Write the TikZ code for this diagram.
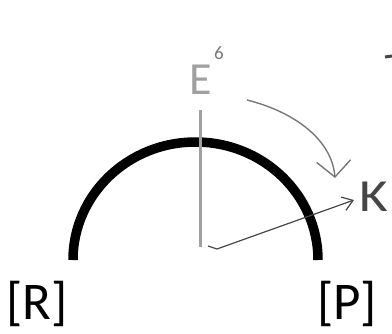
\documentclass[tikz,border=0pt]{standalone}
\usepackage{fontspec}
\setmainfont{Carlito}
\usetikzlibrary{arrows.meta}
\definecolor{penA}{RGB}{120,120,120}
\definecolor{penB}{RGB}{160,160,160}
\definecolor{penC}{RGB}{70,70,70}
\tikzset{
  bracketlabel/.style={font=\fontsize{53}{53}\selectfont, inner sep=0pt, text=black},
  handlabel/.style={font=\fontsize{46}{46}\selectfont, inner sep=0pt},
  pencurve/.style={draw=penA, line width=1.4pt, -{Straight Barb[length=16pt,width=34pt,line width=1.4pt]}},
  penline/.style={draw=penC, line width=1.2pt, -{Straight Barb[length=10pt,width=14pt,line width=1.2pt]}}
}
\begin{document}
\begin{tikzpicture}[x=1pt,y=-1pt]
\useasboundingbox (0,0) rectangle (392,333);
% arc
\draw[line width=9.5pt, line cap=butt] (73,260) arc[start angle=180, end angle=360, x radius=122.5, y radius=118];
% vertical axis line
\draw[penB, line width=3pt] (200,110) -- (200,247);
% labels
\node[handlabel, text=penB] (E) at (201,80) {E};
\node[font=\fontsize{19}{19}\selectfont, text=penA, inner sep=0pt] (six) at (219,53) {6};
\node[handlabel, text=penC, xscale=1.2, transform shape] (K) at (374,197) {K};
\node[bracketlabel] (R) at (37,304) {[R]};
\node[bracketlabel] (P) at (347,304) {[P]};
% stray mark
\coordinate (m1) at (385,57);
\coordinate (m2) at (392,56);
\draw[penC, line width=3pt] (m1) -- (m2);
% arrows
\coordinate (a1) at (247,100);
\coordinate (a2) at (335,178);
\draw[pencurve] (a1) .. controls (295,112) and (332,140) .. (a2);
\coordinate (b1) at (208,246);
\coordinate (b2) at (217,249);
\coordinate (b3) at (354,200);
\draw[penline] (b1) -- (b2) -- (b3);
\end{tikzpicture}
\end{document}
